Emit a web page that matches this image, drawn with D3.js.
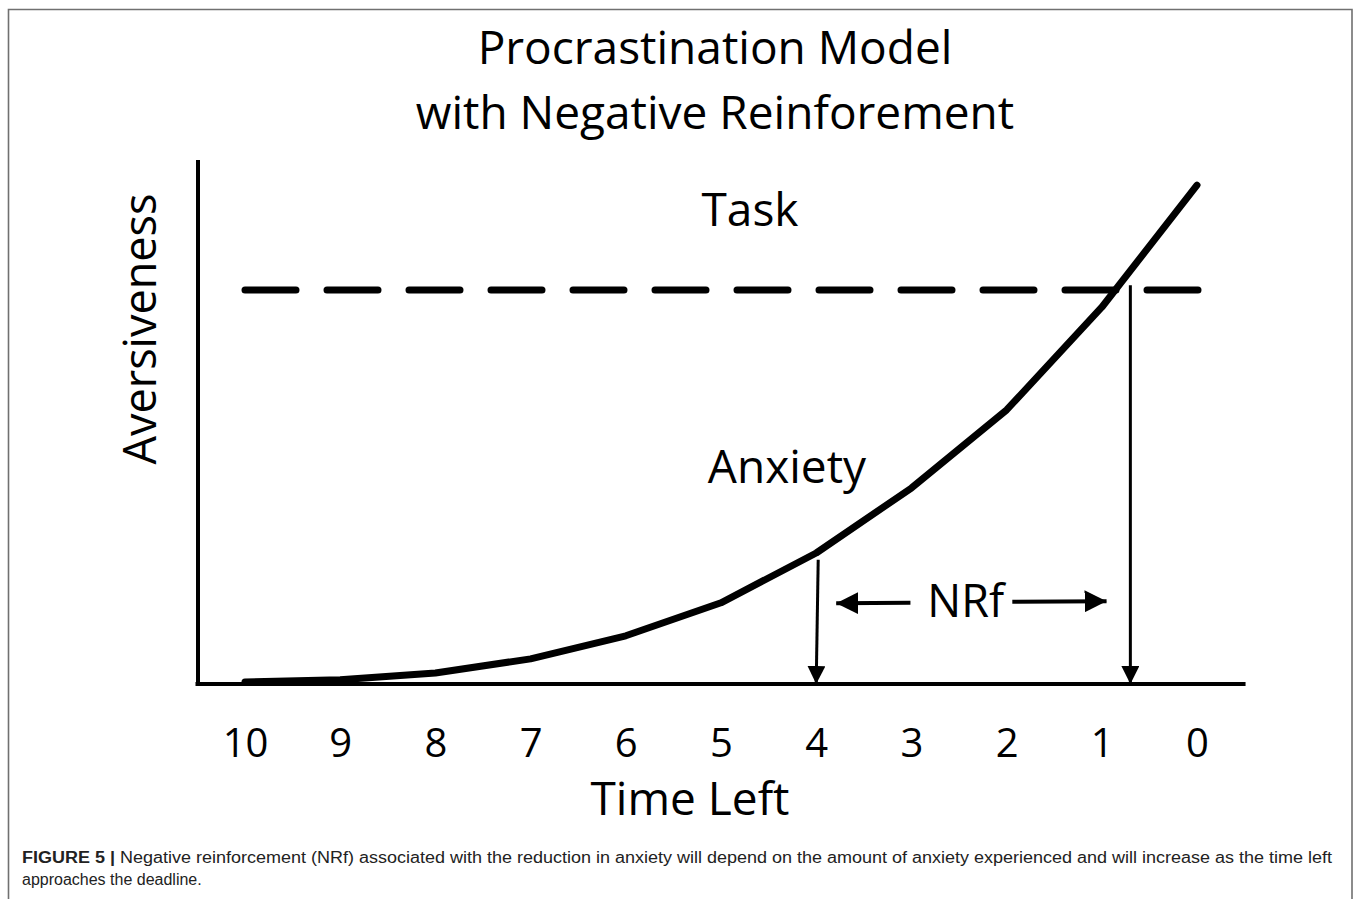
<!DOCTYPE html>
<html>
<head>
<meta charset="utf-8">
<script src="https://cdn.jsdelivr.net/npm/d3@7"></script>
<style>
  body { margin: 0; background: #fff; }
  svg text { font-family: "Open Sans", sans-serif; fill: #000; }
  svg text.caption { font-family: "Liberation Sans Narrow", "Liberation Sans", Arial, sans-serif; fill: #222; }
</style>
</head>
<body>
<svg id="chart" width="1358" height="899"></svg>
<script>
// time left (x) and anxiety level (y)
var timeLeft = [10, 9, 8, 7, 6, 5, 4, 3, 2, 1, 0];
var anxiety  = [0.04, 0.08, 0.21, 0.48, 0.92, 1.55, 2.50, 3.74, 5.23, 7.19, 9.52];
var tickLabels = ["10", "9", "8", "7", "6", "5", "4", "3", "2", "1", "0"];

var taskLevel = 7.52;       // dashed "Task" line
var nrfStart = 4;           // anxiety drop when task is started at t = 4
var nrfEnd = 0.7;           // ... and where the curve meets the task line
var nrfEndTop = 7.61;
var nrfStartTop = 2.37;

var titleLines = ["Procrastination Model", "with Negative Reinforement"];
var captionBold = "FIGURE 5 |";
var captionLines = [
  " Negative reinforcement (NRf) associated with the reduction in anxiety will depend on the amount of anxiety experienced and will increase as the time left",
  "approaches the deadline."
];

var svg = d3.select("#chart");

// x runs backwards: 10 units of time left on the left, deadline on the right
var x = d3.scaleLinear().domain([10, 0]).range([245, 1197]);
var y = d3.scaleLinear().domain([0, 10]).range([684, 160]);

// figure frame (open at the bottom)
svg.append("path")
   .attr("d", "M8.5,899V9.5H1352V899")
   .attr("fill", "none")
   .attr("stroke", "#707070")
   .attr("stroke-width", 1.6);

// arrow heads
var defs = svg.append("defs");
function addHead(id, len, half) {
  defs.append("marker")
      .attr("id", id)
      .attr("markerUnits", "userSpaceOnUse")
      .attr("viewBox", "0 " + (-half) + " " + len + " " + (2 * half))
      .attr("refX", len).attr("refY", 0)
      .attr("markerWidth", len).attr("markerHeight", 2 * half)
      .attr("orient", "auto")
    .append("path")
      .attr("d", "M0," + (-half) + "L" + len + ",0L0," + half + "Z")
      .attr("fill", "#000");
}
addHead("headV", 18, 9);
addHead("headH", 22, 11);

// title
svg.selectAll("text.title")
   .data(titleLines)
   .enter()
   .append("text")
   .attr("class", "title")
   .attr("x", 715)
   .attr("y", function(d, i) { return 64 + i * 65; })
   .attr("text-anchor", "middle")
   .style("font-size", "46px")
   .text(function(d) { return d; });

// axes: plain thick lines, labels only
svg.append("line")
   .attr("x1", 198).attr("x2", 198)
   .attr("y1", y(10)).attr("y2", y(0) + 2)
   .attr("stroke", "#000").attr("stroke-width", 4);
svg.append("line")
   .attr("x1", x(10.52)).attr("x2", x(-0.51))
   .attr("y1", y(0)).attr("y2", y(0))
   .attr("stroke", "#000").attr("stroke-width", 4);

var xAxis = d3.axisBottom(x)
    .tickValues(timeLeft)
    .tickFormat(function(d, i) { return tickLabels[i]; })
    .tickSize(0)
    .tickPadding(0);
var gx = svg.append("g")
   .attr("transform", "translate(0,757)")
   .call(xAxis);
gx.select(".domain").remove();
gx.selectAll("text")
  .attr("dy", 0)
  .attr("fill", "#000")
  .style("font-family", "'Open Sans', sans-serif")
  .style("font-size", "40px");

svg.append("text")
   .attr("x", 690).attr("y", 815)
   .attr("text-anchor", "middle")
   .style("font-size", "46px")
   .text("Time Left");

svg.append("text")
   .attr("transform", "translate(156,329) rotate(-90)")
   .attr("text-anchor", "middle")
   .style("font-size", "45px")
   .text("Aversiveness");

// task level (dashed)
svg.append("line")
   .attr("x1", 245).attr("x2", 1199)
   .attr("y1", y(taskLevel)).attr("y2", y(taskLevel))
   .attr("stroke", "#000")
   .attr("stroke-width", 7)
   .attr("stroke-linecap", "round")
   .attr("stroke-dasharray", "51 31");

// anxiety curve
var line = d3.line()
    .x(function(d, i) { return x(timeLeft[i]); })
    .y(function(d) { return y(d); });
svg.append("path")
   .datum(anxiety)
   .attr("d", line)
   .attr("fill", "none")
   .attr("stroke", "#000")
   .attr("stroke-width", 7)
   .attr("stroke-linecap", "round")
   .attr("stroke-linejoin", "round");

// NRf drop arrows
svg.append("line")
   .attr("x1", x(nrfStart) + 2).attr("x2", x(nrfStart))
   .attr("y1", y(nrfStartTop)).attr("y2", y(0))
   .attr("stroke", "#000").attr("stroke-width", 3)
   .attr("marker-end", "url(#headV)");
svg.append("line")
   .attr("x1", x(nrfEnd)).attr("x2", x(nrfEnd))
   .attr("y1", y(nrfEndTop)).attr("y2", y(0))
   .attr("stroke", "#000").attr("stroke-width", 3)
   .attr("marker-end", "url(#headV)");

// NRf span arrows
svg.append("line")
   .attr("x1", x(3.01)).attr("x2", x(3.79))
   .attr("y1", y(1.55)).attr("y2", y(1.54))
   .attr("stroke", "#000").attr("stroke-width", 4)
   .attr("marker-end", "url(#headH)");
svg.append("line")
   .attr("x1", x(1.94)).attr("x2", x(0.95))
   .attr("y1", y(1.57)).attr("y2", y(1.58))
   .attr("stroke", "#000").attr("stroke-width", 4)
   .attr("marker-end", "url(#headH)");

// in-plot labels
svg.append("text")
   .attr("x", x(2.43)).attr("y", y(1.28))
   .attr("text-anchor", "middle")
   .style("font-size", "45px")
   .text("NRf");
svg.append("text")
   .attr("x", 750).attr("y", 226)
   .attr("text-anchor", "middle")
   .style("font-size", "46px")
   .text("Task");
svg.append("text")
   .attr("x", 787).attr("y", 483)
   .attr("text-anchor", "middle")
   .style("font-size", "46px")
   .text("Anxiety");

// caption
var cap1 = svg.append("text")
   .attr("class", "caption")
   .attr("x", 22).attr("y", 863)
   .attr("textLength", 1310)
   .attr("lengthAdjust", "spacingAndGlyphs")
   .style("font-size", "16px");
cap1.append("tspan").style("font-weight", "bold").text(captionBold);
cap1.append("tspan").text(captionLines[0]);

svg.append("text")
   .attr("class", "caption")
   .attr("x", 22).attr("y", 885)
   .style("font-size", "16px")
   .text(captionLines[1]);
</script>
</body>
</html>
